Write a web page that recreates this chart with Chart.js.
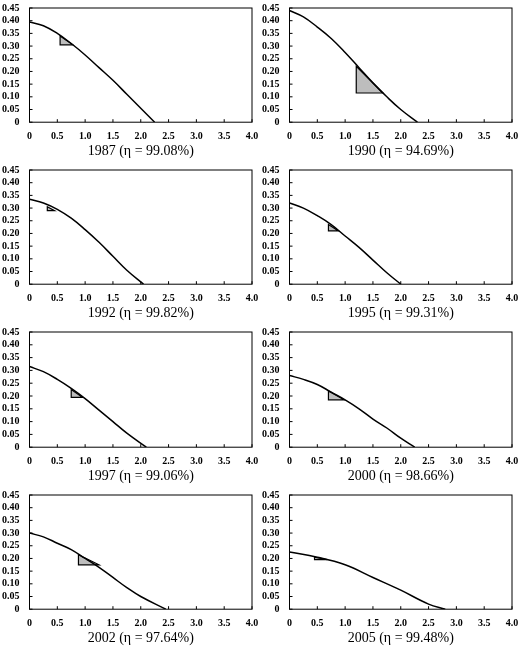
<!DOCTYPE html>
<html><head><meta charset="utf-8">
<script src="https://cdn.jsdelivr.net/npm/chart.js@4.4.0/dist/chart.umd.min.js"></script>
<style>
body{margin:0;background:#fff;width:520px;height:649px;}
#g{display:grid;grid-template-columns:260px 260px;grid-template-rows:162px 162px 163px 162px;}
.c{position:relative;width:260px;height:100%;}
</style></head><body><div id="g"></div>
<script>
const titles=["1987 (η = 99.08%)","1990 (η = 94.69%)","1992 (η = 99.82%)","1995 (η = 99.31%)","1997 (η = 99.06%)","2000 (η = 98.66%)","2002 (η = 97.64%)","2005 (η = 99.48%)"];
const curveX=[
[0,0.25,0.5,0.75,1.0,1.25,1.5,1.75,2.0,2.25],
[0,0.25,0.5,0.75,1.0,1.25,1.5,1.75,2.0,2.3],
[0,0.25,0.5,0.75,1.0,1.25,1.5,1.75,2.05],
[0,0.25,0.5,0.75,1.0,1.25,1.5,1.75,2.0],
[0,0.25,0.5,0.75,1.0,1.25,1.5,1.75,2.1],
[0,0.25,0.5,0.75,1.0,1.25,1.5,1.75,2.0,2.25],
[0,0.25,0.5,0.75,1.0,1.25,1.5,1.75,2.0,2.45],
[0,0.5,1.0,1.5,2.0,2.5,2.8]];
const curveY=[
[0.395,0.38,0.35,0.31,0.265,0.215,0.165,0.11,0.055,0],
[0.44,0.415,0.375,0.33,0.275,0.215,0.155,0.1,0.05,0],
[0.335,0.32,0.295,0.26,0.215,0.165,0.11,0.055,0],
[0.32,0.3,0.27,0.235,0.19,0.145,0.095,0.045,0],
[0.315,0.295,0.265,0.23,0.19,0.145,0.1,0.055,0],
[0.28,0.265,0.245,0.215,0.185,0.15,0.11,0.075,0.035,0],
[0.3,0.285,0.26,0.235,0.2,0.165,0.125,0.085,0.05,0],
[0.225,0.205,0.175,0.125,0.075,0.02,0]];
const triX=[[0.55,0.55,0.78],[1.2,1.2,1.68],[0.32,0.32,0.45],[0.7,0.7,0.88],[0.75,0.75,0.95],[0.7,0.7,0.98],[0.88,0.88,1.25],[0.45,0.45,0.68]];
const triY=[[0.34,0.305,0.305],[0.22,0.115,0.115],[0.305,0.29,0.29],[0.235,0.21,0.21],[0.225,0.195,0.195],[0.22,0.185,0.185],[0.215,0.175,0.175],[0.205,0.195,0.195]];
const xTicks=[0,0.5,1.0,1.5,2.0,2.5,3.0,3.5,4.0];
const yTicks=[0,0.05,0.10,0.15,0.20,0.25,0.30,0.35,0.40,0.45];
const F="Liberation Serif";
const extras={id:'extras',
 beforeDatasetsDraw(ch){const i=ch.options.plugins.extras.idx,x=ch.scales.x,y=ch.scales.y,c=ch.ctx;
  c.save();c.beginPath();
  for(let k=0;k<3;k++){const px=x.getPixelForValue(triX[i][k]),py=y.getPixelForValue(triY[i][k]);k?c.lineTo(px,py):c.moveTo(px,py);}
  c.closePath();c.fillStyle='#bdbdbd';c.fill();c.strokeStyle='#000';c.lineWidth=1.2;c.stroke();c.restore();},
 afterDraw(ch){const a=ch.chartArea,c=ch.ctx;c.save();c.strokeStyle='#000';c.lineWidth=1;c.strokeRect(a.left,a.top,a.right-a.left,a.bottom-a.top);
  c.beginPath();const x=ch.scales.x,y=ch.scales.y;
  xTicks.forEach(v=>{const p=x.getPixelForValue(v);c.moveTo(p,a.bottom);c.lineTo(p,a.bottom-3);});
  yTicks.forEach(v=>{const p=y.getPixelForValue(v);c.moveTo(a.left,p);c.lineTo(a.left+3,p);});
  c.stroke();c.restore();}};
const g=document.getElementById('g');
titles.forEach((t,i)=>{
 const d=document.createElement('div');d.className='c';const cv=document.createElement('canvas');d.appendChild(cv);g.appendChild(d);
 new Chart(cv,{type:'scatter',plugins:[extras],
  data:{datasets:[{data:curveX[i].map((v,k)=>({x:v,y:curveY[i][k]})),showLine:true,borderColor:'#000',borderWidth:1.5,pointRadius:0,tension:0.4}]},
  options:{animation:false,responsive:true,maintainAspectRatio:false,
   layout:{padding:{left:0,right:8,top:4,bottom:2}},
   plugins:{legend:{display:false},tooltip:{enabled:false},extras:{idx:i}},
   scales:{
    x:{type:'linear',min:0,max:4,afterBuildTicks:s=>{s.ticks=xTicks.map(v=>({value:v}));},
     grid:{display:false},border:{display:false},
     ticks:{autoSkip:false,color:'#000',font:{family:F,size:10,weight:'bold'},padding:0,maxRotation:0,callback:v=>v===0?'0':v.toFixed(1)},
     title:{display:true,text:t,color:'#000',font:{family:F,size:14},padding:{top:1,bottom:0}}},
    y:{type:'linear',min:0,max:0.45,afterBuildTicks:s=>{s.ticks=yTicks.map(v=>({value:v}));},
     grid:{display:false},border:{display:false},
     ticks:{autoSkip:false,color:'#000',font:{family:F,size:10,weight:'bold'},padding:2,callback:v=>v===0?'0':v.toFixed(2)}}}}});
});
</script></body></html>
